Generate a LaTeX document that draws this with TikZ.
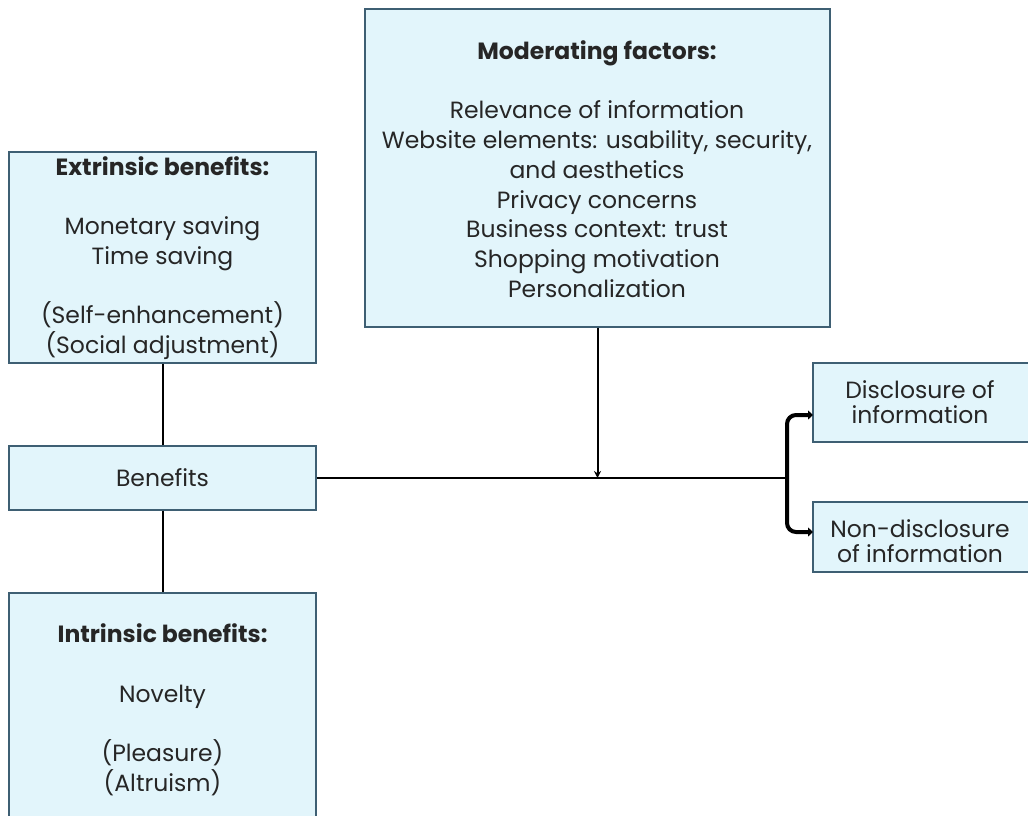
\documentclass[tikz,border=0pt]{standalone}
\usepackage{fontspec}
\setmainfont{Poppins}
\usetikzlibrary{arrows.meta}
\definecolor{boxfill}{HTML}{E2F5FB}
\definecolor{boxline}{HTML}{3E5F73}
\definecolor{txt}{HTML}{262626}
\tikzset{
  box/.style={draw=boxline, fill=boxfill, line width=1.2pt, inner sep=0pt},
  lbl/.style={align=center, text=txt, inner sep=0pt, font=\fontsize{23.5}{29.75}\selectfont},
  lbls/.style={align=center, text=txt, inner sep=0pt, font=\fontsize{23.5}{25}\selectfont},
  conn/.style={line width=2pt, black},
  modarrow/.style={line width=2pt, black, -{Stealth[length=7pt,width=7pt]}},
  bracket/.style={line width=4pt, black, rounded corners=9pt, -{Triangle[length=5pt,width=9pt]}}
}
\begin{document}
\begin{tikzpicture}[x=1pt,y=-1pt]
\useasboundingbox (0,0) rectangle (1028,816);
% boxes
\node[box, minimum width=465pt, minimum height=318pt] (mod) at (597.5,168) {};
\node[box, minimum width=307pt, minimum height=211pt] (ext) at (162.5,257.5) {};
\node[box, minimum width=307pt, minimum height=64pt] (ben) at (162.5,478) {};
\node[box, minimum width=307pt, minimum height=240pt] (intr) at (162.5,713) {};
\node[box, minimum width=230pt, minimum height=79pt] (disc) at (928,402.5) {};
\node[box, minimum width=230pt, minimum height=70pt] (ndisc) at (928,537) {};
% texts
\node[lbl] (modtxt) at (597,169) {\textbf{Moderating factors:}\\ \\ Relevance of information\\ Website elements: usability, security,\\ and aesthetics\\ Privacy concerns\\ Business context: trust\\ Shopping motivation\\ Personalization};
\node[lbl] (exttxt) at (162.5,258) {\textbf{Extrinsic benefits:}\\ \\ Monetary saving\\ Time saving\\ \\ (Self-enhancement)\\ (Social adjustment)};
\node[lbl] (bentxt) at (162.5,478) {Benefits};
\node[lbl] (intrtxt) at (162.5,710) {\textbf{Intrinsic benefits:}\\ \\ Novelty\\ \\ (Pleasure)\\ (Altruism)};
\node[lbls] (disctxt) at (920,402.5) {Disclosure of\\ information};
\node[lbls] (ndisctxt) at (920,541) {Non-disclosure\\ of information};
% connectors
\coordinate (jmod) at (597.5,478);
\coordinate (br) at (787,478);
\coordinate (dtip) at (813,415);
\coordinate (ntip) at (813,532);
\draw[conn] (ext.south) -- (ben.north);
\draw[conn] (ben.south) -- (intr.north);
\draw[conn] (ben.east) -- (br);
\draw[modarrow] (mod.south) -- (jmod);
\draw[bracket] (br) |- (dtip);
\draw[bracket] (br) |- (ntip);
\end{tikzpicture}
\end{document}
